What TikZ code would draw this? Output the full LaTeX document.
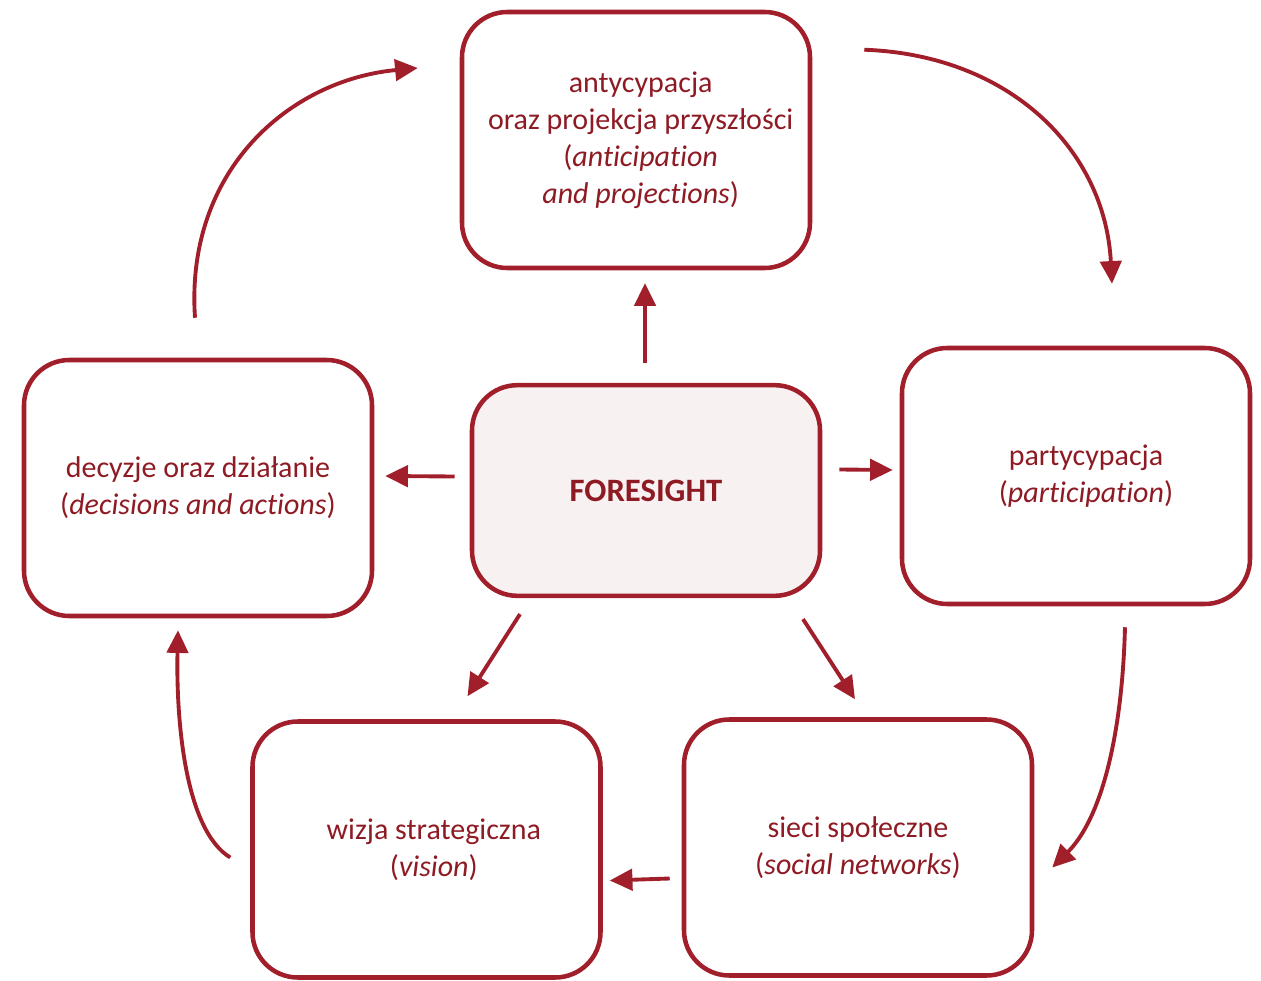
\documentclass[tikz,border=0pt]{standalone}
\usepackage{fontspec}
\setmainfont[Ligatures=NoCommon]{Carlito}
\usetikzlibrary{arrows.meta,calc}
\definecolor{wine}{HTML}{A11F2B}
\definecolor{winetext}{HTML}{8E1B24}
\definecolor{blush}{HTML}{F8F1F1}
\begin{document}
\begin{tikzpicture}[x=0.75pt,y=-0.75pt,
  box/.style={draw=wine,line width=3.4pt,rounded corners=34pt,
    minimum width=261pt,minimum height=192pt,align=center,
    text=winetext,font=\fontsize{22.5}{27.75}\selectfont,inner sep=0pt},
  arr/.style={draw=wine,line width=2.9pt,
    -{Triangle[length=17pt,width=16pt]}}]
\useasboundingbox (0,0) rectangle (1261,981);

% outer cycle of boxes
\node[box] (top) at (636,140) {\hspace*{7pt}antycypacja\\\hspace*{7pt}oraz projekcja przyszłości\\\hspace*{7pt}(\textit{anticipation}\\\hspace*{7pt}\textit{and projections})};
\node[box] (right) at (1076,476) {\hspace*{15pt}partycypacja\\\hspace*{15pt}(\textit{participation})};
\node[box] (left) at (198,488) {decyzje oraz działanie\\(\textit{decisions and actions})};
\node[box] (bl) at (426.5,849.5) {\hspace*{11pt}wizja strategiczna\\\hspace*{11pt}(\textit{vision})};
\node[box] (br) at (858,847.5) {sieci społeczne\\(\textit{social networks})};

% central node
\node[box,fill=blush,minimum height=158pt,font=\fontsize{24.5}{28}\selectfont\bfseries] (c) at (646,490.5) {FORESIGHT};

% spokes from the centre
\draw[arr] ($(c.north)+(-1,-20)$) -- ($(top.south)+(9,13)$);
\draw[arr] ($(c.east)+(17,-21)$) -- ($(right.west)+(-7,-6)$);
\draw[arr] ($(c.west)+(-15,-14)$) -- ($(left.east)+(11,-12)$);
\draw[arr] ($(c.south)+(-126,16)$) -- ($(bl.north)+(41,-23)$);
\draw[arr] ($(c.south)+(157,21)$) -- ($(br.north)+(-3,-18)$);
\draw[arr] ($(br.west)+(-12,31)$) -- ($(bl.east)+(7,31)$);

% cycle arrows between outer boxes
\draw[arr] ($(top.north east)+(52,40)$) .. controls (1010,55) and (1105,150) .. ($(right.north)+(36,-62)$);
\draw[arr] ($(right.south)+(49,21)$) .. controls (1122,740) and (1100,820) .. ($(br.east)+(18,20)$);
\draw[arr] ($(bl.west)+(-20,8)$) .. controls (185,830) and (176,720) .. ($(left.south)+(-20,12)$);
\draw[arr] ($(left.north)+(-3,-40)$) .. controls (185,170) and (290,80) .. ($(top.west)+(-42,-72)$);
\end{tikzpicture}
\end{document}
